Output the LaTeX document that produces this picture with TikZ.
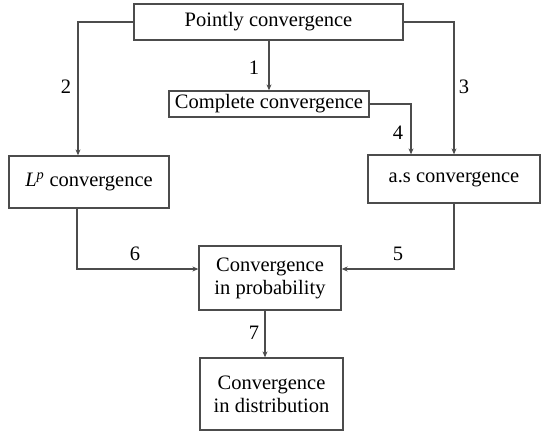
\documentclass[tikz,border=0pt]{standalone}
\usepackage{fontspec}
\setmainfont{Liberation Serif}
\usetikzlibrary{arrows.meta}

\begin{document}
\begin{tikzpicture}[x=1pt, y=-1pt,
  box/.style={draw=black!70, line width=1.3pt, inner sep=0pt, align=center,
    font=\fontsize{20.5}{23}\selectfont},
  link/.style={draw=black!70, line width=1.3pt, -{Stealth[length=6pt,width=5pt]}},
  num/.style={font=\fontsize{20.5}{23}\selectfont}]
\useasboundingbox (0,0) rectangle (544,431);
\node[box, minimum width=269pt, minimum height=36pt] (point) at (268.5,22) {Pointly convergence};
\node[box, minimum width=200pt, minimum height=26pt] (complete) at (269,104) {Complete convergence};
\node[box, minimum width=160pt, minimum height=52pt] (lp) at (89,182) {\textit{L\textsuperscript{p}} convergence};
\node[box, minimum width=172pt, minimum height=48pt] (as) at (454,179) {a.s convergence};
\node[box, minimum width=142pt, minimum height=64pt] (prob) at (270,278) {Convergence\\in probability};
\node[box, minimum width=143pt, minimum height=72pt] (dist) at (271.5,394) {Convergence\\in distribution};
%\draw (point.south) -- (complete.north);
\draw[link] (complete.north |- point.south) -- (complete.north);
\draw[link] (point.west) -| ([xshift=-11pt]lp.north);
\draw[link] (point.east) -| (as.north);
\draw[link] (complete.east) -| ([xshift=-43pt]as.north);
\draw[link] ([xshift=-12pt]lp.south) |- ([yshift=9pt]prob.west);
\draw[link] (as.south) |- ([yshift=9pt]prob.east);
\draw[link] ([xshift=-5pt]prob.south) -- ([xshift=-6.5pt]dist.north);
\node[num] (n1) at (254,68) {1};
\node[num] (n2) at (66,87) {2};
\node[num] (n3) at (464,87) {3};
\node[num] (n4) at (398,133) {4};
\node[num] (n5) at (398,254) {5};
\node[num] (n6) at (135,254) {6};
\node[num] (n7) at (254,333) {7};
\end{tikzpicture}
\end{document}
